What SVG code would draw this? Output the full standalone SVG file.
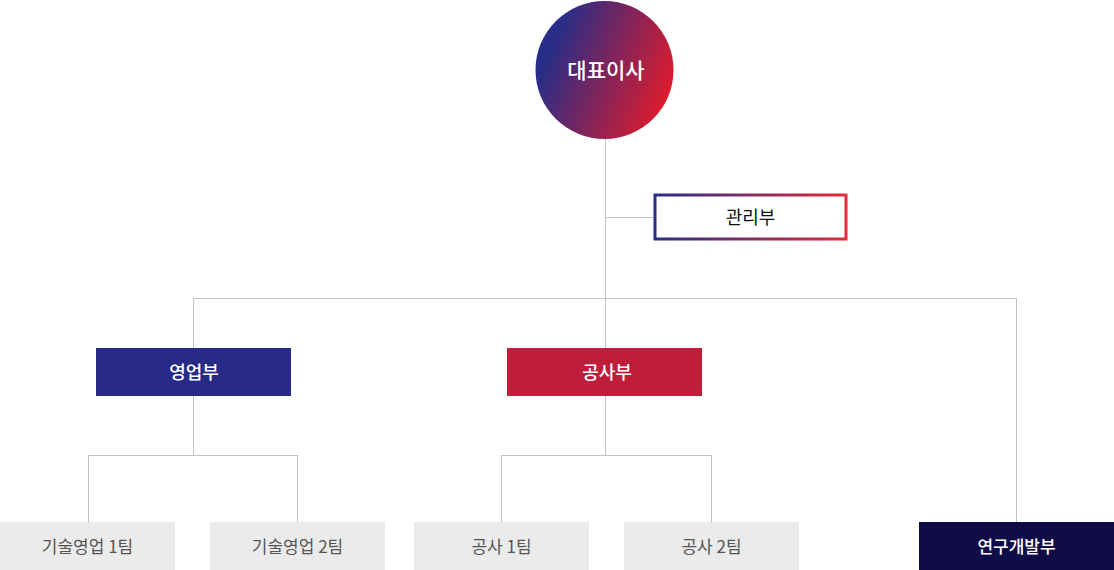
<svg xmlns="http://www.w3.org/2000/svg" width="1114" height="570" viewBox="0 0 1114 570">
<defs>
<linearGradient id="gc" x1="0" y1="0.3" x2="1" y2="0.7">
<stop offset="0.1" stop-color="#272d88"/>
<stop offset="1" stop-color="#e51b2a"/>
</linearGradient>
<linearGradient id="gb" x1="0" y1="0" x2="1" y2="0">
<stop offset="0" stop-color="#272d88"/>
<stop offset="1" stop-color="#e52a3a"/>
</linearGradient>
<style>
.ln{stroke:#c4c4c4;stroke-width:1;fill:none}
.t{font-family:"Noto Sans CJK KR","Noto Sans",sans-serif;text-anchor:middle;dominant-baseline:central}
.w{fill:#fff;font-size:18px;font-weight:500}
.g{fill:#555;font-size:17px}
.gbox{fill:#ebebeb}
</style>
</defs>
<g id="connectors">
<path class="ln" d="M605.5 139V348M605.5 217.5H654M193.5 298.5H1016.5M193.5 298V348M1016.5 298V522M193.5 396V455.5M88.5 455.5H297.5M88.5 455V522M297.5 455V522M605.5 396V455.5M501.5 455.5H711.5M501.5 455V522M711.5 455V522"/>
</g>
<g id="ceo">
<circle cx="604.5" cy="70" r="69" fill="url(#gc)"/>
<text class="t w" x="606" y="69" style="font-size:21px">대표이사</text>
</g>
<g id="admin">
<rect x="655" y="195" width="191" height="44" fill="#fff" stroke="url(#gb)" stroke-width="3"/>
<text class="t" x="750.5" y="216" font-size="18" fill="#111">관리부</text>
</g>
<g id="sales">
<rect x="96" y="348" width="195" height="48" fill="#272b86"/>
<text class="t w" x="194" y="371">영업부</text>
</g>
<g id="construction">
<rect x="507" y="348" width="195" height="48" fill="#be1e3a"/>
<text class="t w" x="607" y="371">공사부</text>
</g>
<g id="sales1">
<rect class="gbox" x="0" y="522" width="175" height="48"/>
<text class="t g" x="87.5" y="545">기술영업 1팀</text>
</g>
<g id="sales2">
<rect class="gbox" x="210" y="522" width="175" height="48"/>
<text class="t g" x="297.5" y="545">기술영업 2팀</text>
</g>
<g id="cons1">
<rect class="gbox" x="414" y="522" width="175" height="48"/>
<text class="t g" x="501.5" y="545">공사 1팀</text>
</g>
<g id="cons2">
<rect class="gbox" x="624" y="522" width="175" height="48"/>
<text class="t g" x="711.5" y="545">공사 2팀</text>
</g>
<g id="rnd">
<rect x="919" y="522" width="195" height="48" fill="#0f0c47"/>
<text class="t w" x="1016.5" y="545" style="font-size:17px">연구개발부</text>
</g>
</svg>
